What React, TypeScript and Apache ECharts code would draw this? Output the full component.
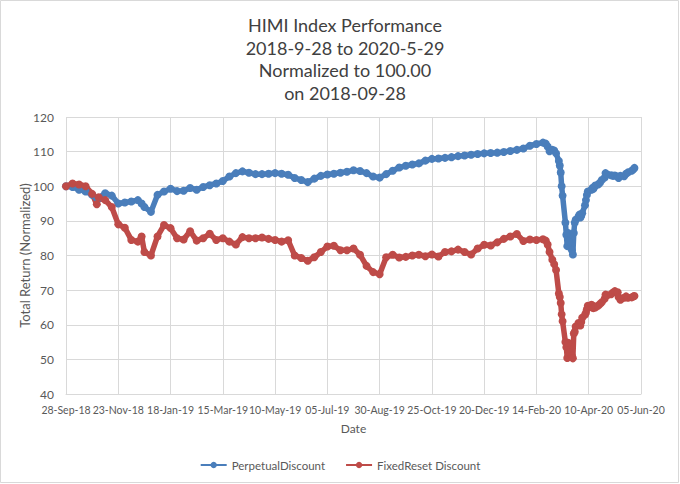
import React, { useEffect, useRef } from "react";
import * as echarts from "echarts";

const START = "2018-09-28";

const dates: string[] = [
  "2018-09-28","2018-10-05","2018-10-12","2018-10-19","2018-10-26","2018-10-31","2018-11-02","2018-11-09","2018-11-16","2018-11-23",
  "2018-11-30","2018-12-07","2018-12-14","2018-12-18","2018-12-21","2018-12-28","2019-01-04","2019-01-11","2019-01-18","2019-01-25",
  "2019-02-01","2019-02-08","2019-02-15","2019-02-22","2019-03-01","2019-03-08","2019-03-15","2019-03-22","2019-03-29","2019-04-05",
  "2019-04-12","2019-04-19","2019-04-26","2019-05-03","2019-05-10","2019-05-17","2019-05-24","2019-05-31","2019-06-07","2019-06-14",
  "2019-06-21","2019-06-28","2019-07-05","2019-07-12","2019-07-19","2019-07-26","2019-08-02","2019-08-09","2019-08-16","2019-08-23",
  "2019-08-30","2019-09-06","2019-09-13","2019-09-20","2019-09-27","2019-10-04","2019-10-11","2019-10-18","2019-10-25","2019-11-01",
  "2019-11-08","2019-11-15","2019-11-22","2019-11-29","2019-12-06","2019-12-13","2019-12-20","2019-12-27","2020-01-03","2020-01-10",
  "2020-01-17","2020-01-24","2020-01-31","2020-02-07","2020-02-14","2020-02-21","2020-02-24","2020-02-26","2020-02-28","2020-03-02",
  "2020-03-04","2020-03-06","2020-03-09","2020-03-10","2020-03-11","2020-03-12","2020-03-13","2020-03-16","2020-03-17","2020-03-18",
  "2020-03-19","2020-03-20","2020-03-23","2020-03-24","2020-03-25","2020-03-26","2020-03-27","2020-03-30","2020-03-31","2020-04-01",
  "2020-04-02","2020-04-03","2020-04-06","2020-04-07","2020-04-08","2020-04-09","2020-04-13","2020-04-14","2020-04-15","2020-04-16",
  "2020-04-17","2020-04-20","2020-04-22","2020-04-24","2020-04-27","2020-04-28","2020-04-30","2020-05-04","2020-05-06","2020-05-08",
  "2020-05-11","2020-05-12","2020-05-14","2020-05-18","2020-05-20","2020-05-22","2020-05-26","2020-05-28","2020-05-29"
];

const perpetualDiscount: number[] = [
  100.0, 99.8, 99.0, 98.5, 97.5, 96.5, 96.6, 98.0, 97.3, 95.0,
  95.3, 95.6, 96.0, 95.0, 94.0, 92.6, 97.5, 98.5, 99.3, 98.6,
  98.7, 99.5, 99.0, 99.8, 100.3, 100.8, 101.5, 102.8, 103.8, 104.3,
  103.9, 103.5, 103.5, 103.6, 103.8, 103.6, 103.3, 102.4, 101.8, 101.2,
  102.2, 103.0, 103.4, 103.6, 103.9, 104.2, 104.6, 104.4, 103.8, 102.8,
  102.5, 103.5, 104.5, 105.4, 105.9, 106.3, 106.6, 107.4, 107.9, 108.0,
  108.2, 108.4, 108.7, 108.9, 109.1, 109.3, 109.5, 109.6, 109.7, 109.9,
  110.2, 110.5, 110.9, 111.7, 112.2, 112.6, 112.3, 111.5, 110.1, 110.5,
  110.3, 109.5, 107.3, 106.0, 104.0, 100.0, 97.3, 89.5, 86.0, 82.7,
  86.5, 84.0, 81.5, 80.3, 86.5, 89.5, 90.3, 91.2, 91.8, 91.0,
  91.5, 92.2, 94.5, 96.0, 97.5, 98.5, 99.0, 99.5, 99.3, 99.8,
  100.2, 100.5, 101.0, 101.8, 102.5, 103.8, 103.4, 103.2, 103.0, 103.1,
  102.8, 102.4, 103.0, 102.9, 103.6, 104.0, 104.5, 104.9, 105.3
];

const fixedResetDiscount: number[] = [
  100.0, 100.8, 100.5, 100.0, 97.8, 94.8, 96.8, 96.0, 94.0, 89.0,
  88.0, 84.5, 84.0, 85.5, 81.0, 80.0, 85.5, 88.8, 87.9, 85.0,
  84.6, 87.0, 84.3, 85.0, 86.3, 84.5, 85.0, 84.0, 83.2, 85.3,
  85.0, 85.0, 85.2, 84.8, 84.5, 84.0, 84.4, 80.0, 79.3, 78.5,
  79.5, 81.0, 82.6, 82.8, 81.5, 81.5, 82.0, 80.2, 77.0, 75.2,
  74.6, 79.5, 80.2, 79.4, 79.6, 80.0, 80.2, 79.8, 80.3, 79.7,
  81.0, 81.2, 81.7, 81.0, 80.3, 82.0, 83.1, 82.9, 83.8, 84.8,
  85.5, 86.2, 84.2, 84.6, 84.5, 84.7, 84.3, 83.2, 81.0, 78.8,
  77.5, 75.8, 69.0, 68.0, 66.3, 63.0, 61.0, 55.0, 53.5, 50.4,
  54.8, 52.0, 51.0, 50.3, 57.5, 58.0, 59.5, 60.5, 60.0, 59.8,
  60.8, 62.0, 62.9, 63.5, 64.5, 65.5, 65.8, 65.0, 64.8, 65.3,
  65.0, 65.5, 66.0, 66.5, 67.5, 68.7, 68.5, 68.8, 69.3, 69.7,
  69.4, 68.0, 67.2, 67.8, 68.2, 67.8, 67.9, 68.2, 68.3
];

const seriesNames = ["PerpetualDiscount", "FixedReset Discount"];
const titleLines = ["HIMI Index Performance", "2018-9-28 to 2020-5-29", "Normalized to 100.00", "on 2018-09-28"];
const yTicks = { min: 40, max: 120, step: 10 };
const xTickStepDays = 56;
const xTickCount = 11;

const MONTHS = ["Jan","Feb","Mar","Apr","May","Jun","Jul","Aug","Sep","Oct","Nov","Dec"];
const DAY = 86400000;
const toMs = (s: string) => {
  const [y, m, d] = s.split("-").map(Number);
  return Date.UTC(y, m - 1, d);
};
const startMs = toMs(START);
const offset = (s: string) => Math.round((toMs(s) - startMs) / DAY);
const fmt = (off: number) => {
  const d = new Date(startMs + off * DAY);
  const dd = String(d.getUTCDate()).padStart(2, "0");
  const yy = String(d.getUTCFullYear() % 100).padStart(2, "0");
  return `${dd}-${MONTHS[d.getUTCMonth()]}-${yy}`;
};

const FONT = "Lato, 'Open Sans', sans-serif";

export default function App() {
  const ref = useRef<HTMLDivElement>(null);
  useEffect(() => {
    if (!ref.current) return;
    const chart = echarts.init(ref.current, undefined, { renderer: "svg" });
    const blue = "#4A7EBB";
    const red = "#BE4B48";
    const mk = (vals: number[]) => dates.map((d, i) => [offset(d), vals[i]]);
    chart.setOption({
      animation: false,
      backgroundColor: "#ffffff",
      textStyle: { fontFamily: FONT },
      title: {
        text: titleLines.join("\n"),
        left: 340,
        textAlign: "center",
        top: 9,
        textStyle: { fontFamily: FONT, fontSize: 18, fontWeight: "normal", color: "#404040", lineHeight: 22.5 },
      },
      grid: { left: 66, right: 39, top: 117, bottom: 90, containLabel: false },
      legend: {
        left: "center",
        top: 454,
        itemWidth: 26,
        itemHeight: 8,
        itemGap: 20,
        textStyle: { fontFamily: FONT, fontSize: 11.5, color: "#595959" },
        data: seriesNames,
      },
      xAxis: {
        type: "value",
        min: 0,
        max: xTickStepDays * xTickCount,
        interval: xTickStepDays,
        name: "Date",
        nameLocation: "middle",
        nameGap: 28,
        nameTextStyle: { fontFamily: FONT, fontSize: 12, color: "#595959" },
        axisLine: { show: true, lineStyle: { color: "#d9d9d9", width: 1 } },
        axisTick: { show: false },
        splitLine: { show: true, lineStyle: { color: "#d9d9d9", width: 1 } },
        axisLabel: {
          fontFamily: FONT,
          fontSize: 10.5,
          color: "#595959",
          margin: 10,
          showMinLabel: true,
          showMaxLabel: true,
          hideOverlap: false,
          formatter: (v: number) => fmt(v),
        },
      },
      yAxis: {
        type: "value",
        min: yTicks.min,
        max: yTicks.max,
        interval: yTicks.step,
        name: "Total Return (Normalized)",
        nameLocation: "middle",
        nameGap: 35,
        nameMoveOverlap: false,
        nameTextStyle: { fontFamily: FONT, fontSize: 13, color: "#595959" },
        axisLine: { show: false },
        axisTick: { show: false },
        splitLine: { show: true, lineStyle: { color: "#d9d9d9", width: 1 } },
        axisLabel: { fontFamily: FONT, fontSize: 12, color: "#595959", margin: 12 },
      },
      series: [
        {
          name: seriesNames[0],
          type: "line",
          data: mk(perpetualDiscount),
          symbol: "circle",
          symbolSize: 8,
          showAllSymbol: true,
          itemStyle: { color: blue },
          lineStyle: { color: blue, width: 5.5 },
        },
        {
          name: seriesNames[1],
          type: "line",
          data: mk(fixedResetDiscount),
          symbol: "circle",
          symbolSize: 8,
          showAllSymbol: true,
          itemStyle: { color: red },
          lineStyle: { color: red, width: 5.5 },
        },
      ],
      graphic: [
        {
          type: "rect",
          shape: { x: 0.5, y: 0.5, width: 678, height: 482 },
          style: { fill: "none", stroke: "#d9d9d9", lineWidth: 1 },
          silent: true,
        },
      ],
    });
    return () => chart.dispose();
  }, []);
  return (
    <div
      ref={ref}
      style={{ position: "fixed", left: 0, top: 0, width: 680, height: 484, background: "#fff" }}
    />
  );
}
